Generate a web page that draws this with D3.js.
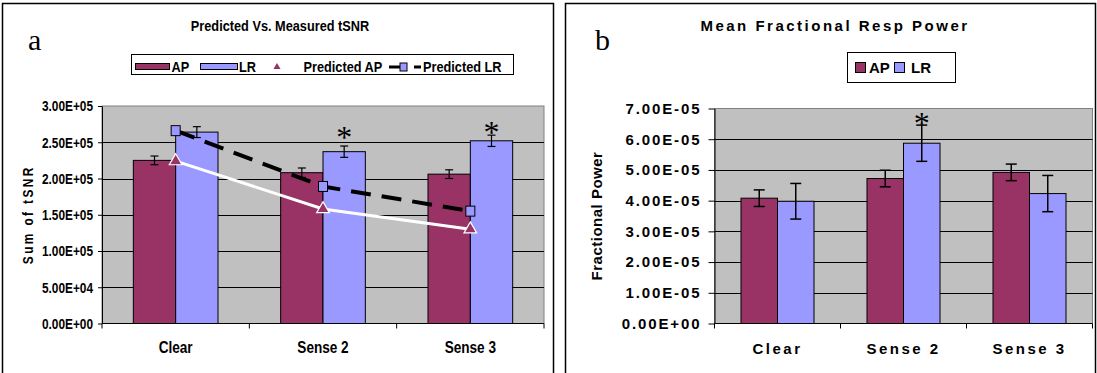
<!DOCTYPE html>
<html>
<head>
<meta charset="utf-8">
<script src="https://cdn.jsdelivr.net/npm/d3@7"></script>
<style>
  body { margin: 0; background: #fff; }
  svg { display: block; }
</style>
</head>
<body>
<svg id="chart" width="1097" height="373"></svg>
<script>
// values
var categories = ["Clear", "Sense 2", "Sense 3"];
var seriesNames = ["AP", "LR"];

// panel a: sum of tSNR
var tsnrAP = [225000, 208000, 206000];
var tsnrLR = [264000, 237000, 252000];
var tsnrAPErr = [6000, 6500, 6000];
var tsnrLRErr = [7500, 7800, 7800];
var predictedAP = [224000, 158000, 130000];
var predictedLR = [266000, 189000, 155000];
var tsnrStars = [null, 264500, 271500];
var tsnrTicks = [0, 50000, 100000, 150000, 200000, 250000, 300000];

// panel b: mean fractional resp power
var powerAP = [4.08e-5, 4.72e-5, 4.92e-5];
var powerLR = [3.98e-5, 5.87e-5, 4.23e-5];
var powerAPErr = [2.7e-6, 2.7e-6, 2.7e-6];
var powerLRErr = [5.8e-6, 5.9e-6, 5.9e-6];
var powerStars = [null, 6.7e-5, null];
var powerTicks = [0, 1e-5, 2e-5, 3e-5, 4e-5, 5e-5, 6e-5, 7e-5];

var colors = {AP: "#993366", LR: "#9999FF"};
var sans = "'Liberation Sans', Arial, sans-serif";
var serif = "'Liberation Serif', 'Times New Roman', serif";
var NARROW = 0.85; // no narrow face installed, squeeze Liberation Sans instead

var svg = d3.select("#chart");

// 3.00E+05 style labels
var sci = d => {
  var p = d.toExponential(2).split("e");
  var e = +p[1];
  return p[0] + "E" + (e < 0 ? "-" : "+") + String(Math.abs(e)).padStart(2, "0");
};

// text placed with a transform so it can be squeezed
var label = (parent, x, y, txt, font, sx, spacing, anchor, rot) => parent.append("text")
  .attr("transform", `translate(${x},${y})` + (rot ? ` rotate(${rot})` : "") + ` scale(${sx},1)`)
  .attr("text-anchor", anchor || "start")
  .style("font", font)
  .style("letter-spacing", (spacing || 0) + "px")
  .text(txt);

var barPanel = (o) => {
  var g = svg.append("g");
  var x = d3.scaleBand().domain(categories).range([o.left, o.right]);
  var xs = d3.scaleBand().domain(seriesNames).range([0, x.bandwidth()]).paddingOuter(o.outer);
  var y = d3.scaleLinear().domain([0, o.ticks[o.ticks.length - 1]]).range([o.bottom, o.top]);

  // gray plot area
  g.append("rect")
    .attr("x", o.left).attr("y", o.top)
    .attr("width", o.right - o.left).attr("height", o.bottom - o.top)
    .attr("fill", "#C0C0C0").attr("stroke", "#808080").attr("stroke-width", 1);

  // gridlines
  g.append("g").selectAll("line")
    .data(o.ticks.slice(1, -1))
    .join("line")
      .attr("x1", o.left).attr("x2", o.right)
      .attr("y1", d => Math.round(y(d)) + 0.5).attr("y2", d => Math.round(y(d)) + 0.5)
      .attr("stroke", "#000").attr("stroke-width", 1);

  // bars
  var rows = categories.map((c, i) => ({c: c, i: i}));
  seriesNames.forEach((s, k) => {
    g.append("g").selectAll("rect")
      .data(rows)
      .join("rect")
        .attr("x", d => x(d.c) + xs(s))
        .attr("y", d => y(o.values[k][d.i]))
        .attr("width", xs.bandwidth())
        .attr("height", d => y(0) - y(o.values[k][d.i]))
        .attr("fill", colors[s]).attr("stroke", "#000").attr("stroke-width", 1);
  });

  // error bars
  seriesNames.forEach((s, k) => {
    var eg = g.append("g").attr("stroke", "#000").attr("stroke-width", o.errWidth);
    rows.forEach(d => {
      var cx = x(d.c) + xs(s) + xs.bandwidth() / 2;
      var v = o.values[k][d.i], e = o.errors[k][d.i];
      eg.append("line").attr("x1", cx).attr("x2", cx).attr("y1", y(v - e)).attr("y2", y(v + e));
      [v - e, v + e].forEach(t => {
        eg.append("line").attr("x1", cx - o.cap).attr("x2", cx + o.cap).attr("y1", y(t)).attr("y2", y(t));
      });
    });
  });

  // y axis
  var ya = g.append("g")
    .attr("transform", `translate(${o.left},0)`)
    .call(d3.axisLeft(y).tickValues(o.ticks).tickFormat(sci).tickSize(o.tick).tickSizeOuter(0).tickPadding(o.pad));
  ya.select(".domain").attr("stroke", "#000");
  ya.selectAll(".tick line").attr("stroke", "#000");
  var tt = ya.selectAll(".tick text")
    .attr("fill", "#000")
    .style("font", o.tickFont)
    .style("letter-spacing", o.tickSpacing + "px");
  if (o.tickWidth) tt.attr("textLength", o.tickWidth).attr("lengthAdjust", "spacingAndGlyphs");

  // x axis: line, ticks between the categories, labels under the groups
  var xa = g.append("g");
  xa.append("line")
    .attr("x1", o.left).attr("x2", o.right).attr("y1", y(0)).attr("y2", y(0))
    .attr("stroke", "#000");
  xa.selectAll("line.sep")
    .data(d3.range(categories.length + 1))
    .join("line")
      .attr("class", "sep")
      .attr("x1", i => o.left + i * x.step()).attr("x2", i => o.left + i * x.step())
      .attr("y1", y(0)).attr("y2", y(0) + 5)
      .attr("stroke", "#000");
  categories.forEach(c => {
    label(xa, x(c) + x.bandwidth() / 2, o.labelY, c, o.labelFont, o.sx, o.labelSpacing, "middle");
  });

  // significance marks over LR
  g.append("g").selectAll("text")
    .data(rows.filter(d => o.stars[d.i] != null))
    .join("text")
      .attr("x", d => x(d.c) + xs("LR") + xs.bandwidth() / 2)
      .attr("y", d => y(o.stars[d.i]) + 16)
      .attr("text-anchor", "middle")
      .style("font", "32px " + serif)
      .text("*");

  // y title
  label(g, o.titleX, (o.top + o.bottom) / 2, o.yTitle, o.yTitleFont, o.sx, o.yTitleSpacing, "middle", -90);

  return {x: x, y: y};
};

// frames
svg.append("rect").attr("x", 2.5).attr("y", 3.5).attr("width", 551).attr("height", 372)
  .attr("fill", "none").attr("stroke", "#000").attr("stroke-width", 1.5);
svg.append("rect").attr("x", 565.5).attr("y", 3.5).attr("width", 530).attr("height", 372)
  .attr("fill", "none").attr("stroke", "#000").attr("stroke-width", 1.5);

// ---- panel a ----
var a = barPanel({
  left: 102, right: 544, top: 106, bottom: 323.5, outer: 0.74, sx: NARROW, tickWidth: 51,
  ticks: tsnrTicks, values: [tsnrAP, tsnrLR], errors: [tsnrAPErr, tsnrLRErr], stars: tsnrStars,
  cap: 4, tick: 4, pad: 5, errWidth: 1.2,
  tickFont: "bold 15px " + sans, tickSpacing: 0,
  labelFont: "bold 16px " + sans, labelSpacing: 0, labelY: 353,
  yTitle: "Sum of tSNR", yTitleFont: "bold 14px " + sans, yTitleSpacing: 2.8, titleX: 33
});

var cx = d => a.x(d) + a.x.bandwidth() / 2;

// predicted lines
svg.append("path")
  .datum(categories)
  .attr("fill", "none").attr("stroke", "#fff").attr("stroke-width", 3)
  .attr("d", d3.line().x(cx).y((d, i) => a.y(predictedAP[i])));
svg.append("path")
  .datum(categories)
  .attr("fill", "none").attr("stroke", "#000").attr("stroke-width", 4)
  .attr("stroke-dasharray", "20,11")
  .attr("d", d3.line().x(cx).y((d, i) => a.y(predictedLR[i])));

svg.append("g").selectAll("path")
  .data(categories)
  .join("path")
    .attr("transform", (d, i) => `translate(${cx(d)},${a.y(predictedAP[i])})`)
    .attr("d", d3.symbol(d3.symbolTriangle, 70))
    .attr("fill", colors.AP).attr("stroke", "#fff").attr("stroke-width", 1.2);
svg.append("g").selectAll("rect")
  .data(categories)
  .join("rect")
    .attr("x", d => cx(d) - 4.5)
    .attr("y", (d, i) => a.y(predictedLR[i]) - 5)
    .attr("width", 9).attr("height", 10)
    .attr("fill", colors.LR).attr("stroke", "#000").attr("stroke-width", 1);

// title and panel letter
label(svg, 280, 31, "Predicted Vs. Measured tSNR", "bold 15px " + sans, NARROW, 0, "middle");
svg.append("text").attr("x", 28).attr("y", 50)
  .style("font", "30px " + serif).text("a");

// legend a
var la = svg.append("g");
la.append("rect").attr("x", 131.5).attr("y", 54.5).attr("width", 382).attr("height", 20)
  .attr("fill", "#fff").attr("stroke", "#000");
la.append("rect").attr("x", 135.5).attr("y", 63.5).attr("width", 34).attr("height", 6)
  .attr("fill", colors.AP).attr("stroke", "#000");
la.append("rect").attr("x", 200.5).attr("y", 63.5).attr("width", 37).attr("height", 6)
  .attr("fill", colors.LR).attr("stroke", "#000");
la.append("path").attr("transform", "translate(277,67)")
  .attr("d", d3.symbol(d3.symbolTriangle, 22)).attr("fill", colors.AP);
la.append("line").attr("x1", 389).attr("x2", 421).attr("y1", 67).attr("y2", 67)
  .attr("stroke", "#000").attr("stroke-width", 3).attr("stroke-dasharray", "14,11");
la.append("rect").attr("x", 400).attr("y", 63).attr("width", 7).attr("height", 8)
  .attr("fill", colors.LR).attr("stroke", "#000");
[["AP", 171.5], ["LR", 239], ["Predicted AP", 303.5], ["Predicted LR", 423]].forEach(t => {
  label(la, t[1], 72, t[0], "bold 15px " + sans, NARROW);
});

// ---- panel b ----
barPanel({
  left: 714.5, right: 1092.5, top: 108.5, bottom: 323.5, outer: 0.726, sx: 1,
  ticks: powerTicks, values: [powerAP, powerLR], errors: [powerAPErr, powerLRErr], stars: powerStars,
  cap: 5.5, tick: 6, pad: 7, errWidth: 1.5,
  tickFont: "bold 15px " + sans, tickSpacing: 1.9,
  labelFont: "bold 15px " + sans, labelSpacing: 2.5, labelY: 354,
  yTitle: "Fractional Power", yTitleFont: "bold 15px " + sans, yTitleSpacing: 0.5, titleX: 602
});

label(svg, 835, 31, "Mean Fractional Resp Power", "bold 15px " + sans, 1, 2.5, "middle");
svg.append("text").attr("x", 595).attr("y", 50)
  .style("font", "30px " + serif).text("b");

// legend b
var lb = svg.append("g");
lb.append("rect").attr("x", 847.5).attr("y", 52.5).attr("width", 108).attr("height", 30)
  .attr("fill", "#fff").attr("stroke", "#000");
[["AP", 855.5, 869], ["LR", 894.5, 911]].forEach(t => {
  lb.append("rect").attr("x", t[1]).attr("y", 62.5).attr("width", 10).attr("height", 10)
    .attr("fill", colors[t[0]]).attr("stroke", "#000");
  label(lb, t[2], 73, t[0], "bold 15px " + sans, 1);
});
</script>
</body>
</html>
